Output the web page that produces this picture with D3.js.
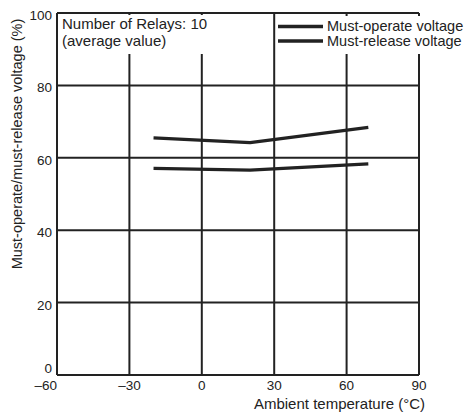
<!DOCTYPE html>
<html>
  <head>
    <meta charset="utf-8">
    <script src="https://d3js.org/d3.v7.min.js"></script>
    <style>
      body { margin: 0; background: #fff; }
      svg { display: block; }
      text { font-family: "Liberation Sans", Arial, sans-serif; fill: #222; }
      .tick-label { font-size: 13.5px; }
      .axis-label { font-size: 15px; }
    </style>
  </head>
  <body>
    <svg width="474" height="413"></svg>
    <script>
      // temperatures (°C) and voltages (% of rated)
      const temps = [-20, 20, 69];
      const operate = [65.5, 64.2, 68.4];
      const release = [57.1, 56.6, 58.3];
      const xTicks = [-60, -30, 0, 30, 60, 90];
      const yTicks = [0, 20, 40, 60, 80, 100];
      const legendNames = ['Must-operate voltage', 'Must-release voltage'];

      const svg = d3.select('svg');
      const margin = { left: 57, top: 13, right: 55, bottom: 38 };
      const innerWidth = 474 - margin.left - margin.right;
      const innerHeight = 413 - margin.top - margin.bottom;
      const ink = '#222';

      const x = d3.scaleLinear().domain([-60, 90]).range([0, innerWidth]);
      const y = d3.scaleLinear().domain([0, 100]).range([innerHeight, 0]);

      const g = svg.append('g')
          .attr('transform', `translate(${margin.left},${margin.top})`);

      // grid
      g.selectAll('.hgrid').data(yTicks).enter().append('line')
          .attr('x1', 0).attr('x2', innerWidth)
          .attr('y1', d => y(d)).attr('y2', d => y(d))
          .attr('stroke', ink).attr('stroke-width', 2);
      g.selectAll('.vgrid').data(xTicks).enter().append('line')
          .attr('x1', d => x(d)).attr('x2', d => x(d))
          .attr('y1', 0).attr('y2', innerHeight)
          .attr('stroke', ink).attr('stroke-width', 2);

      // white boxes behind the notes
      g.append('rect').attr('x', 2).attr('y', 2).attr('width', 148).attr('height', 39).attr('fill', '#fff');
      g.append('rect').attr('x', 219).attr('y', 3).attr('width', 198).attr('height', 38).attr('fill', '#fff');

      g.append('text').attr('class', 'axis-label').attr('x', 5).attr('y', 16)
          .text('Number of Relays: 10');
      g.append('text').attr('class', 'axis-label').attr('x', 5).attr('y', 33)
          .text('(average value)');

      // legend
      const leg = g.selectAll('.leg').data(legendNames).enter().append('g')
          .attr('transform', (d, i) => `translate(221,${13.5 + i * 14.5})`);
      leg.append('line').attr('x1', 0).attr('x2', 45)
          .attr('stroke', ink).attr('stroke-width', 3.5);
      leg.append('text').attr('class', 'axis-label').attr('x', 49).attr('y', 4.5)
          .style('font-size', '14.5px')
          .text(d => d);

      // series
      const line = d3.line().x(d => x(d[0])).y(d => y(d[1]));
      [operate, release].forEach(vals => {
        g.append('path')
            .datum(temps.map((t, i) => [t, vals[i]]))
            .attr('d', line)
            .attr('fill', 'none')
            .attr('stroke', ink)
            .attr('stroke-width', 3.2)
            .attr('stroke-linejoin', 'round');
      });

      // tick labels
      const fmt = d => d < 0 ? '\u2013' + Math.abs(d) : String(d);
      g.selectAll('.xt').data(xTicks).enter().append('text')
          .attr('class', 'tick-label')
          .attr('x', d => x(d))
          .attr('y', innerHeight + 15)
          .attr('text-anchor', d => d === -60 ? 'end' : 'middle')
          .text(fmt);
      g.selectAll('.yt').data(yTicks).enter().append('text')
          .attr('class', 'tick-label')
          .attr('x', -5)
          .attr('y', d => d === 0 ? y(d) - 2 : y(d) + 7)
          .attr('text-anchor', 'end')
          .text(fmt);

      // axis titles
      g.append('text').attr('class', 'axis-label')
          .style('font-size', '14.5px')
          .attr('transform', `translate(-35,${innerHeight / 2 - 50}) rotate(-90)`)
          .attr('text-anchor', 'middle')
          .text('Must-operate/must-release voltage (%)');
      g.append('text').attr('class', 'axis-label')
          .attr('x', innerWidth + 6).attr('y', innerHeight + 34)
          .attr('text-anchor', 'end')
          .text('Ambient temperature (°C)');
    </script>
  </body>
</html>
